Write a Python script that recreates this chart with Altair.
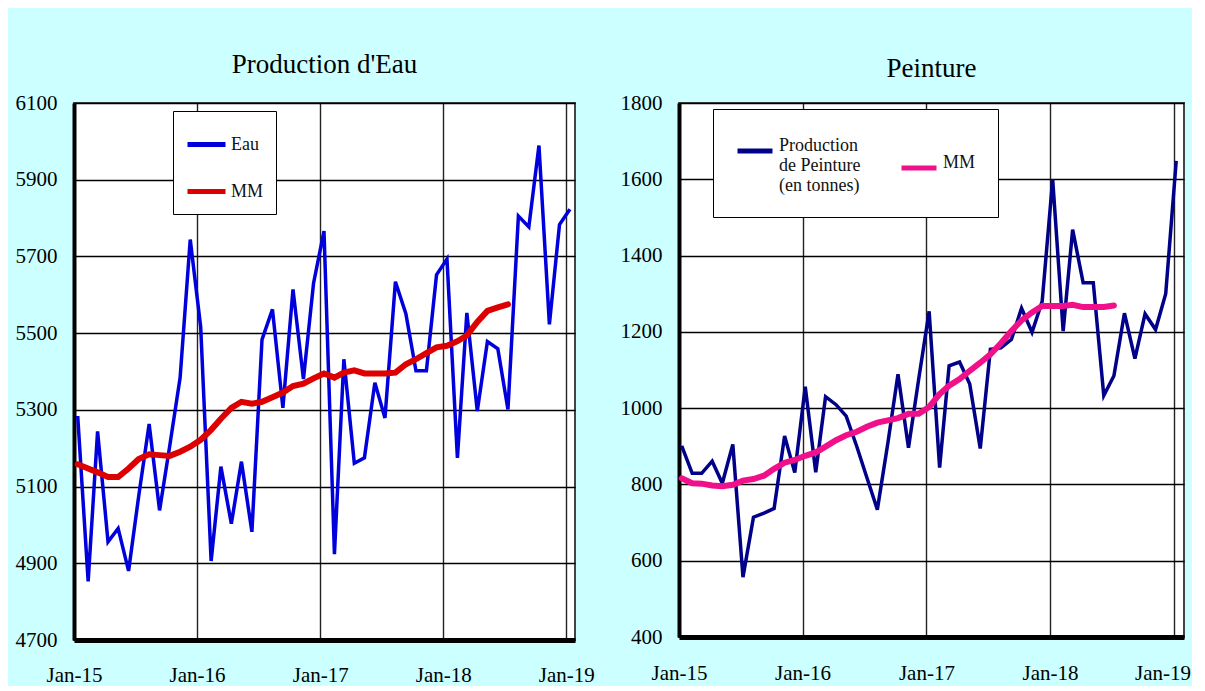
import altair as alt
import pandas as pd

# ---- data ----
months = pd.date_range("2015-01-01", periods=49, freq="MS")

eau = [5284, 4853, 5244, 4956, 4991, 4880, 5075, 5263, 5038, 5205,
       5384, 5744, 5516, 4906, 5152, 5003, 5165, 4982, 5483, 5562,
       5305, 5614, 5380, 5630, 5766, 4924, 5432, 5161, 5175, 5371,
       5279, 5634, 5551, 5402, 5402, 5652, 5693, 5175, 5553, 5297,
       5478, 5459, 5301, 5805, 5777, 5989, 5523, 5783, 5823]

eau_mm = [5158, 5147, 5137, 5125, 5125, 5147, 5172, 5184, 5182, 5180,
          5191, 5204, 5222, 5248, 5277, 5305, 5321, 5316, 5321, 5333,
          5345, 5362, 5368, 5382, 5395, 5384, 5397, 5403, 5395, 5395,
          5395, 5397, 5419, 5432, 5448, 5463, 5467, 5479, 5494, 5529,
          5558, 5567, 5575]

peinture = [901, 829, 829, 861, 803, 905, 557, 714, 725, 737,
            927, 831, 1056, 832, 1030, 1009, 979, 900, 818, 734,
            908, 1089, 896, 1075, 1254, 844, 1111, 1121, 1063, 894,
            1154, 1158, 1180, 1262, 1199, 1280, 1600, 1202, 1468, 1329,
            1329, 1033, 1085, 1249, 1130, 1247, 1206, 1300, 1648]

peinture_mm = [816, 803, 802, 797, 795, 799, 810, 814, 823, 841,
               857, 864, 875, 884, 899, 916, 929, 938, 951, 962,
               968, 974, 985, 985, 1003, 1037, 1059, 1076, 1098, 1119,
               1141, 1170, 1202, 1230, 1251, 1268, 1268, 1268, 1271, 1265,
               1265, 1265, 1269]

eau_names = ["Eau", "MM"]
peint_names = ["Production de Peinture (en tonnes)", "MM"]
eau_colors = ["#0000DD", "#DD0000"]
peint_colors = ["#000088", "#F0108A"]
year_ticks = [2015, 2016, 2017, 2018, 2019]
eau_ticks = [4700, 4900, 5100, 5300, 5500, 5700, 5900, 6100]
peint_ticks = [400, 600, 800, 1000, 1200, 1400, 1600, 1800]

FONT = "Liberation Serif"


def make_df(values, mm, names, offset_days):
    dates = months + pd.Timedelta(days=offset_days)
    rows = [{"date": d, "val": v, "serie": names[0]} for d, v in zip(dates, values)]
    rows += [{"date": d, "val": v, "serie": names[1]} for d, v in zip(dates, mm)]
    return pd.DataFrame(rows)


def panel(df, names, colors, title, ydom, yticks, xend, width, height,
          legend, title_offset, xpad, last_shift):
    x = alt.X(
        "date:T",
        scale=alt.Scale(domain=[alt.DateTime(year=2015, month=1, date=1), xend]),
        axis=alt.Axis(
            values=[alt.DateTime(year=y, month=1, date=1) for y in year_ticks],
            format="%b-%y", title=None, ticks=False, labelPadding=xpad,
            labelFont=FONT, labelFontSize=21, labelColor="black",
            labelFlush=False, labelOverlap=False, domainWidth=5,
            domainColor="black", gridColor="#222", gridWidth=1.4,
            labelAlign={"condition": {"test": "year(datum.value) == 2019",
                                      "value": "right" if last_shift else "center"},
                        "value": "center"},
            labelOffset={"condition": {"test": "year(datum.value) == 2019",
                                       "value": last_shift},
                         "value": 0},
        ),
    )
    y = alt.Y(
        "val:Q",
        scale=alt.Scale(domain=ydom, nice=False, zero=False),
        axis=alt.Axis(values=yticks, title=None, ticks=False, labelPadding=17,
                      format="d", labelFont=FONT, labelFontSize=21,
                      labelColor="black",
                      domainWidth=4, domainColor="black", gridColor="black",
                      gridWidth=1.4, labelFlush=False, labelOverlap=False),
    )
    color = alt.Color("serie:N", scale=alt.Scale(domain=names, range=colors),
                      legend=legend)
    base = alt.Chart(df)
    l1 = base.transform_filter(alt.datum.serie == names[0]).mark_line(
        strokeWidth=3.5, strokeJoin="miter").encode(x=x, y=y, color=color)
    l2 = base.transform_filter(alt.datum.serie == names[1]).mark_line(
        strokeWidth=6, strokeCap="round").encode(x=x, y=y, color=color)
    return alt.layer(l1, l2).properties(
        width=width, height=height,
        title=alt.Title(title, offset=title_offset, baseline="alphabetic"),
    )


df_eau = make_df(eau, eau_mm, eau_names, 11)
df_peint = make_df(peinture, peinture_mm, peint_names, 8)

legend_eau = alt.Legend(
    title=None, orient="none", legendX=99, legendY=8, direction="vertical",
    symbolSize=1444, rowPadding=15, labelOffset=3, padding=12,
)
legend_peint = alt.Legend(
    title=None, orient="none", legendX=34, legendY=6, direction="horizontal",
    columns=2, symbolSize=1225, columnPadding=30, labelOffset=4, padding=22,
    labelBaseline="alphabetic", labelLimit=400,
    labelExpr="datum.label == 'MM' ? 'MM' : ['Production', 'de Peinture', '(en tonnes)']",
)

left = panel(df_eau, eau_names, eau_colors, "Production d'Eau",
             [4700, 6100], eau_ticks, alt.DateTime(year=2019, month=1, date=27),
             501, 537, legend_eau, -8, 24, 0)
right = panel(df_peint, peint_names, peint_colors, "Peinture",
              [400, 1800], peint_ticks, alt.DateTime(year=2019, month=2, date=1),
              505, 534, legend_peint, -12, 25, 17)

chart = alt.hconcat(left, right, spacing=23).resolve_scale(
    color="independent", x="independent", y="independent"
).resolve_legend(color="independent").properties(
    padding={"left": 6, "top": 42, "right": 0, "bottom": 0},
    background="#CCFFFF",
).configure_view(
    fill="white", stroke="#444", strokeWidth=2,
).configure_axis(
    labelFont=FONT, labelFontSize=21, labelColor="black",
).configure_title(
    font=FONT, fontSize=27, fontWeight="normal", color="black", anchor="middle",
).configure_legend(
    labelFont=FONT, labelFontSize=18, labelColor="#111", fillColor="white",
    strokeColor="black", symbolType="stroke", symbolStrokeWidth=5,
    cornerRadius=0,
)

chart.save("out.html", embed_options={"renderer": "svg", "actions": False})
